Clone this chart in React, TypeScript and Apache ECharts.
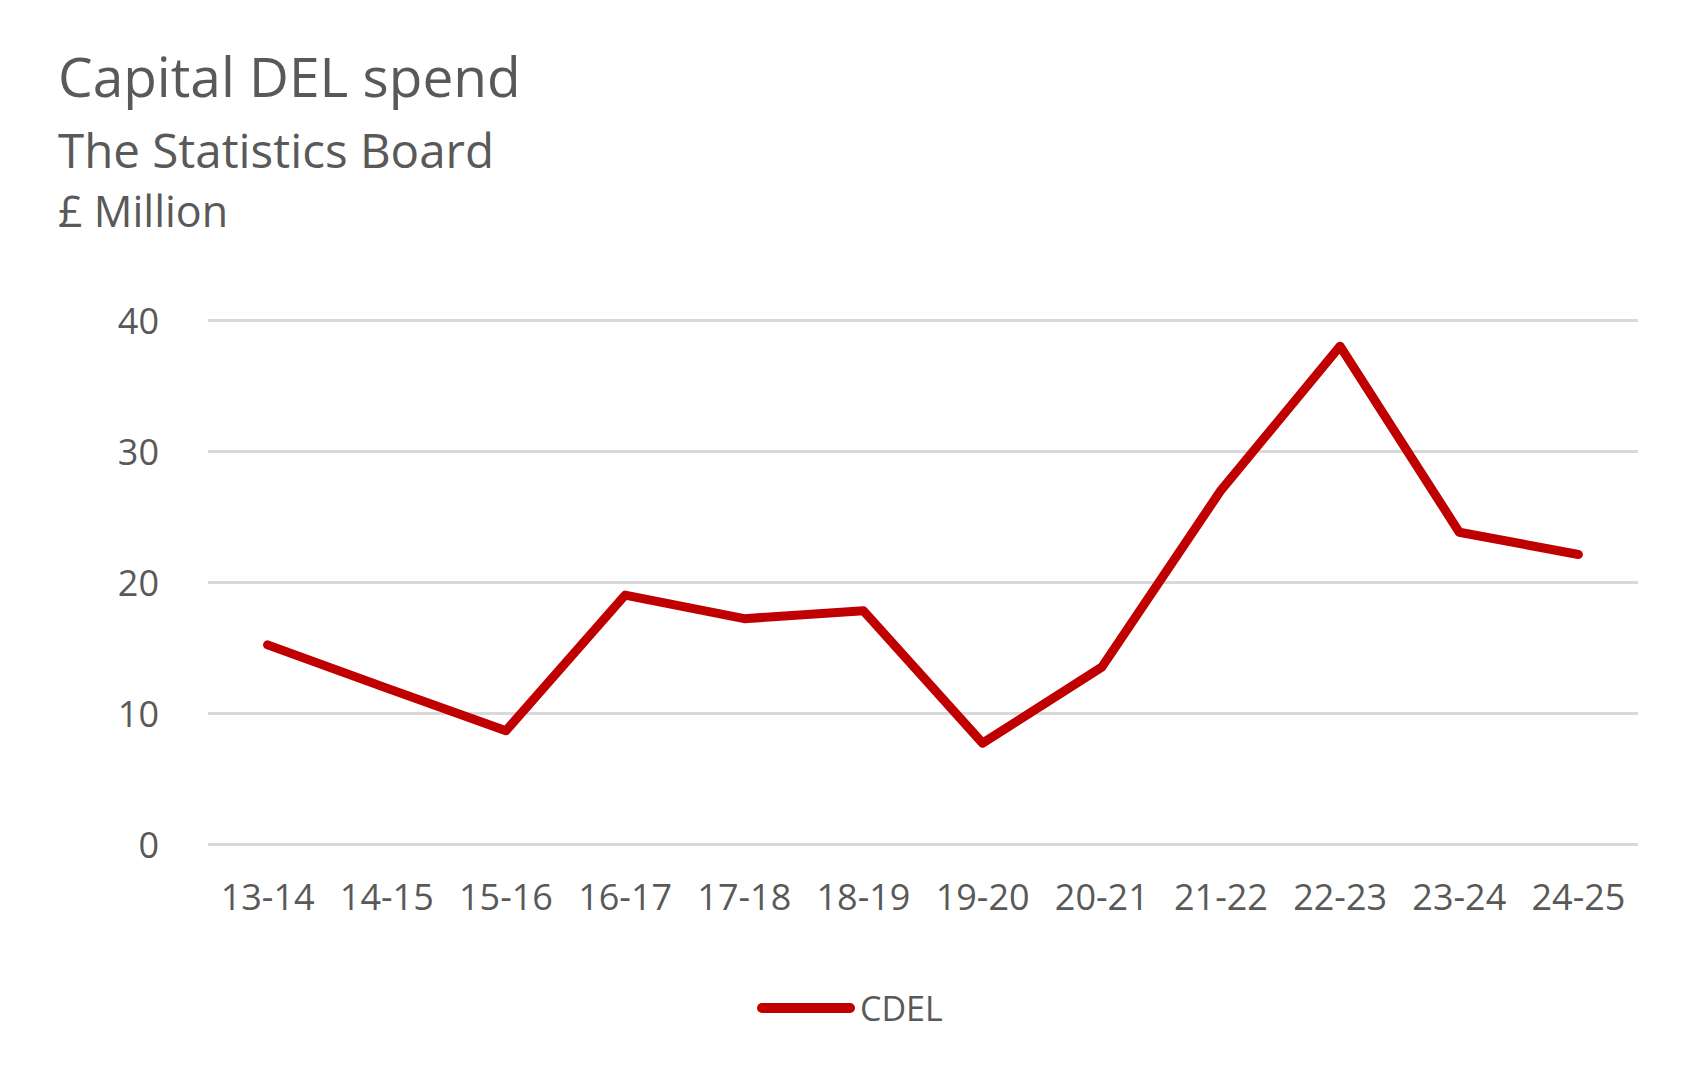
import React, { useEffect, useRef } from "react";
import * as echarts from "echarts";

const categories = ["13-14", "14-15", "15-16", "16-17", "17-18", "18-19", "19-20", "20-21", "21-22", "22-23", "23-24", "24-25"];
const cdelValues = [15.2, 11.9, 8.65, 19.0, 17.2, 17.8, 7.7, 13.5, 27.0, 38.0, 23.8, 22.1];
const seriesName = "CDEL";
const titleText = "Capital DEL spend";
const subtitleText = "The Statistics Board";
const unitText = "£ Million";

const FONT = "'Open Sans', 'Noto Sans', sans-serif";
const TEXT = "#595959";
const RED = "#C00000";

export default function App() {
  const ref = useRef<HTMLDivElement>(null);
  useEffect(() => {
    if (!ref.current) return;
    const chart = echarts.init(ref.current, undefined, { renderer: "svg" });
    chart.setOption({
      animation: false,
      backgroundColor: "#ffffff",
      textStyle: { fontFamily: FONT },
      graphic: [
        { type: "text", left: 58, top: 48, style: { text: titleText, fontSize: 55, fontFamily: FONT, fill: TEXT } },
        { type: "text", left: 58, top: 125, style: { text: subtitleText, fontSize: 47.5, fontFamily: FONT, fill: TEXT } },
        { type: "text", left: 58, top: 189, style: { text: unitText, fontSize: 43, fontFamily: FONT, fill: TEXT } },
      ],
      grid: { left: 208, right: 51, top: 320, bottom: 229, containLabel: false },
      legend: {
        left: 752,
        top: 986,
        itemWidth: 98,
        itemHeight: 10,
        data: [{ name: seriesName, icon: "path://M5,0 H93 A5,5 0 0 1 93,10 H5 A5,5 0 0 1 5,0 Z" }],
        textStyle: { fontSize: 34, fontFamily: FONT, color: TEXT },
      },
      xAxis: {
        type: "category",
        data: categories,
        boundaryGap: true,
        axisLine: { show: false },
        axisTick: { show: false },
        axisLabel: { margin: 34, fontSize: 36, fontFamily: FONT, color: TEXT, interval: 0 },
      },
      yAxis: {
        type: "value",
        min: 0,
        max: 40,
        interval: 10,
        axisLine: { show: false },
        axisTick: { show: false },
        axisLabel: { margin: 49, fontSize: 36, fontFamily: FONT, color: TEXT },
        splitLine: { lineStyle: { color: "#D9D9D9", width: 3 } },
      },
      series: [
        {
          name: seriesName,
          type: "line",
          data: cdelValues,
          symbol: "none",
          color: RED,
          lineStyle: { color: RED, width: 9, cap: "round", join: "round" },
        },
      ],
    });
    return () => chart.dispose();
  }, []);
  return <div ref={ref} style={{ position: "fixed", left: 0, top: 0, width: 1689, height: 1073 }} />;
}
